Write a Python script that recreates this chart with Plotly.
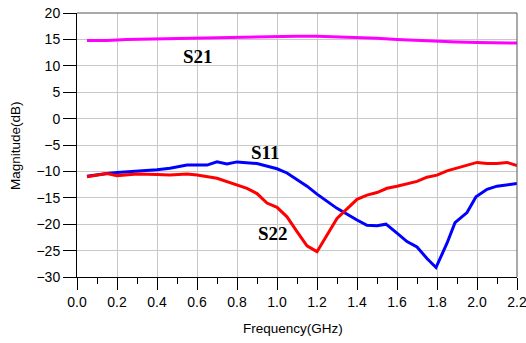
import plotly.graph_objects as go

# Data
freq_s21 = [0.05, 0.15, 0.25, 0.4, 0.5, 0.6, 0.7, 0.8, 0.9, 1.0, 1.1, 1.2, 1.3, 1.4, 1.5, 1.6, 1.7, 1.8, 1.9, 2.0, 2.1, 2.2]
s21 = [14.8, 14.8, 15.0, 15.1, 15.2, 15.3, 15.3, 15.5, 15.5, 15.6, 15.6, 15.6, 15.5, 15.4, 15.2, 15.0, 14.8, 14.7, 14.5, 14.4, 14.4, 14.3]

freq_s11 = [0.05, 0.1, 0.15, 0.2, 0.25, 0.3, 0.35, 0.4, 0.465, 0.55, 0.65, 0.7, 0.75, 0.8, 0.9, 0.95, 1.0, 1.05, 1.1, 1.15, 1.2, 1.25, 1.3,
            1.4, 1.45, 1.5, 1.545, 1.6, 1.65, 1.7, 1.75, 1.795, 1.85, 1.89, 1.95, 1.995, 2.05, 2.1, 2.15, 2.2]
s11 = [-10.9, -10.6, -10.4, -10.2, -10.1, -9.9, -9.8, -9.7, -9.4, -8.8, -8.8, -8.2, -8.6, -8.2, -8.5, -9.0, -9.5, -10.3, -11.6, -12.8, -14.3, -15.7, -17.0,
       -19.2, -20.2, -20.3, -20.0, -21.7, -23.3, -24.3, -26.5, -28.2, -23.6, -19.7, -17.8, -14.8, -13.4, -12.8, -12.6, -12.3]

freq_s22 = [0.05, 0.15, 0.2, 0.3, 0.4, 0.465, 0.55, 0.6, 0.7, 0.8, 0.85, 0.9, 0.95, 1.0, 1.05, 1.1, 1.15, 1.2, 1.25, 1.3,
            1.4, 1.45, 1.5, 1.55, 1.6, 1.65, 1.7, 1.75, 1.8, 1.85, 1.9, 1.95, 2.0, 2.05, 2.1, 2.15, 2.2]
s22 = [-11.0, -10.4, -10.8, -10.5, -10.6, -10.7, -10.5, -10.7, -11.3, -12.6, -13.2, -14.2, -16.0, -16.8, -18.6, -21.4, -24.1, -25.2, -22.0, -18.9,
       -15.3, -14.5, -14.0, -13.2, -12.8, -12.3, -11.9, -11.1, -10.7, -9.9, -9.4, -8.8, -8.3, -8.5, -8.5, -8.3, -8.9]

labels = [("S21", 0.604, 11.7), ("S11", 0.94, -6.4), ("S22", 0.982, -21.7)]

x_ticks = [round(0.2 * i, 1) for i in range(12)]
y_ticks = list(range(-30, 25, 5))

fig = go.Figure()
fig.add_trace(go.Scatter(x=freq_s21, y=s21, mode="lines", line=dict(color="#FF00FF", width=3), name="S21"))
fig.add_trace(go.Scatter(x=freq_s11, y=s11, mode="lines", line=dict(color="#0000FF", width=3), name="S11"))
fig.add_trace(go.Scatter(x=freq_s22, y=s22, mode="lines", line=dict(color="#FF0000", width=3), name="S22"))

for txt, x, y in labels:
    fig.add_annotation(x=x, y=y, text="<b>%s</b>" % txt, showarrow=False,
                       font=dict(family="Liberation Serif", size=19, color="black"))

fig.add_annotation(xref="paper", yref="paper", x=0.49, y=-0.195, text="Frequency(GHz)", showarrow=False,
                   xanchor="center", yanchor="middle", font=dict(family="Liberation Sans", size=13.5, color="black"))
fig.add_annotation(xref="paper", yref="paper", x=-0.141, y=0.5, text="Magnitude(dB)", showarrow=False, textangle=-90,
                   xanchor="center", yanchor="middle", font=dict(family="Liberation Sans", size=13.5, color="black"))

# top and right border
fig.add_shape(type="line", xref="paper", yref="paper", x0=0, x1=1, y0=1, y1=1, line=dict(color="#555555", width=1))
fig.add_shape(type="line", xref="paper", yref="paper", x0=1, x1=1, y0=0, y1=1, line=dict(color="#555555", width=1))

fig.update_layout(
    width=526, height=343,
    margin=dict(l=77, r=9, t=13, b=66),
    plot_bgcolor="white", paper_bgcolor="white",
    showlegend=False,
    font=dict(family="Liberation Sans", size=14, color="black"),
    xaxis=dict(range=[0, 2.2000001], tickvals=x_ticks, ticktext=["%.1f" % v for v in x_ticks],
               showgrid=True, gridcolor="#c8c8c8", gridwidth=1,
               showline=True, linecolor="black", linewidth=1,
               ticks="outside", ticklen=12, tickcolor="black",
               ticklabeloverflow="allow", automargin=False,
               minor=dict(dtick=0.1, tick0=0, ticks="outside", ticklen=6, tickcolor="black", showgrid=False),
               zeroline=False),
    yaxis=dict(range=[-30, 20], tickvals=y_ticks,
               showgrid=True, gridcolor="#c8c8c8", gridwidth=1,
               showline=True, linecolor="black", linewidth=1,
               ticks="outside", ticklen=13, tickcolor="black",
               ticklabeloverflow="allow", automargin=False,
               zeroline=False),
)

fig.write_html("out.html")
